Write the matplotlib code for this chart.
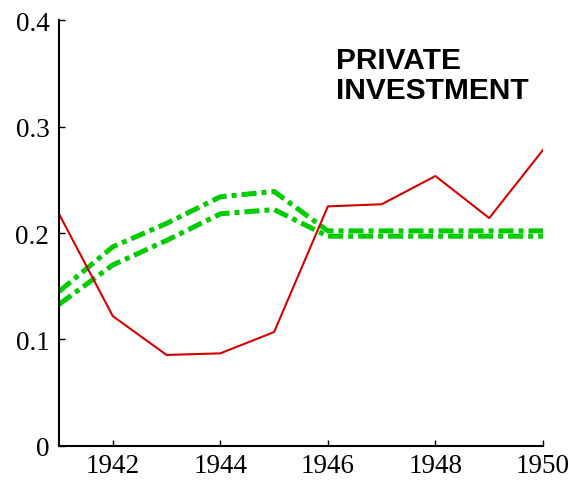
import matplotlib
matplotlib.use("Agg")
import matplotlib.pyplot as plt

years = [1941, 1942, 1943, 1944, 1945, 1946, 1947, 1948, 1949, 1950]
actual = [0.218, 0.122, 0.0855, 0.087, 0.107, 0.225, 0.227, 0.2535, 0.214, 0.278]
model_high = [0.145, 0.187, 0.209, 0.234, 0.239, 0.202, 0.202, 0.202, 0.202, 0.202]
model_low = [0.133, 0.170, 0.193, 0.218, 0.222, 0.197, 0.197, 0.197, 0.197, 0.197]

x_ticks = [1942, 1944, 1946, 1948, 1950]
y_ticks = [0, 0.1, 0.2, 0.3, 0.4]
y_tick_labels = ["0", "0.1", "0.2", "0.3", "0.4"]

RED = "#d40000"
GREEN = "#00cc00"

fig = plt.figure(figsize=(5.72, 4.81), dpi=100)
ax = fig.add_axes([0.1031, 0.0707, 0.8462, 0.8856])

ax.plot(years, model_high, color=GREEN, linewidth=3.6, linestyle=(0, (3, 1, 1, 1)))
ax.plot(years, model_low, color=GREEN, linewidth=3.6, linestyle=(0, (3, 1, 1, 1)))
ax.plot(years, actual, color=RED, linewidth=1.5)

ax.set_xlim(1941, 1950)
ax.set_ylim(0, 0.4)
ax.set_xticks(x_ticks)
ax.set_yticks(y_ticks)
ax.set_yticklabels(y_tick_labels)

for side in ["top", "right"]:
    ax.spines[side].set_visible(False)
for side in ["left", "bottom"]:
    ax.spines[side].set_linewidth(1.5)

ax.tick_params(direction="in", length=4, width=1, labelsize=19.5, pad=7)
ax.tick_params(axis="x", pad=5)
for lab in ax.get_xticklabels() + ax.get_yticklabels():
    lab.set_family("Liberation Serif")

ax.text(0.572, 0.94, "PRIVATE\nINVESTMENT", transform=ax.transAxes,
        family="Liberation Sans", fontweight="bold", fontsize=21.5,
        ha="left", va="top", linespacing=1.1)

fig.savefig("out.png", dpi=100)
